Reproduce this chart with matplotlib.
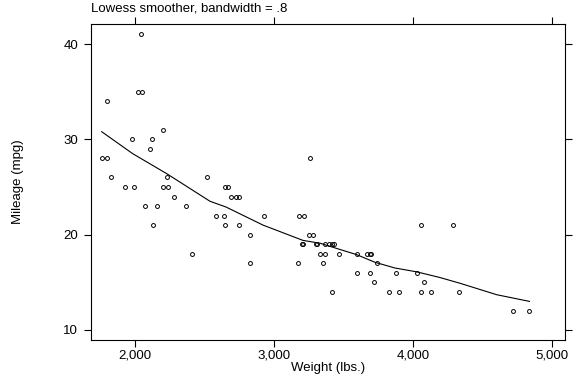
import matplotlib
matplotlib.use("Agg")
import matplotlib.pyplot as plt
from matplotlib.ticker import FuncFormatter

# auto data: weight (lbs.) and mileage (mpg)
weight = [2930, 3350, 2640, 3250, 4080, 3670, 2230, 3280, 3880, 3400,
          4330, 3900, 4290, 2110, 3690, 3180, 3220, 2750, 3430, 2120,
          3600, 3600, 3740, 1800, 2650, 4840, 4720, 3830, 2580, 4060,
          3720, 3370, 4130, 2830, 4060, 3310, 3300, 3690, 3370, 2730,
          4030, 3260, 1800, 2200, 2520, 3330, 3700, 3470, 3210, 3200,
          3420, 2690, 2830, 2070, 2650, 2370, 2020, 2280, 2750, 2130,
          2240, 1760, 1980, 3420, 1830, 2050, 2410, 2200, 2670, 2160,
          2040, 1930, 1990, 3170]
mpg = [22, 17, 22, 20, 15, 18, 26, 20, 16, 19,
       14, 14, 21, 29, 16, 22, 22, 24, 19, 30,
       18, 16, 17, 28, 21, 12, 12, 14, 22, 14,
       15, 18, 14, 20, 21, 19, 19, 18, 19, 24,
       16, 28, 34, 25, 26, 18, 18, 18, 19, 19,
       19, 24, 17, 23, 25, 23, 35, 24, 21, 21,
       25, 28, 30, 14, 26, 35, 18, 31, 25, 23,
       41, 25, 25, 17]

# lowess curve
smooth_w = [1760, 1983, 2228, 2540, 2655, 2922, 3209, 3332, 3596,
            3728, 3872, 4028, 4196, 4340, 4604, 4840]
smooth_mpg = [30.8, 28.5, 26.4, 23.5, 22.9, 21.0, 19.4, 19.1, 17.9,
              17.1, 16.5, 16.1, 15.5, 14.9, 13.7, 13.0]

xticks = [2000, 3000, 4000, 5000]
yticks = [10, 20, 30, 40]

plt.rcParams["font.family"] = ["Liberation Sans", "DejaVu Sans"]

fig = plt.figure(figsize=(5.76, 3.84), dpi=100)
ax = fig.add_axes([0.1575, 0.1146, 0.8235, 0.8229])

ax.plot(weight, mpg, "o", ms=2.8, mfc="none", mec="black", mew=0.7)
ax.plot(smooth_w, smooth_mpg, color="black", lw=0.8)

ax.set_xlim(1681, 5096)
ax.set_ylim(8.95, 42.1)
ax.set_xticks(xticks)
ax.set_yticks(yticks)
ax.xaxis.set_major_formatter(FuncFormatter(lambda v, p: f"{int(v):,}"))

ax.tick_params(direction="out", length=5, width=0.8, labelsize=9.5,
               top=True, right=True, pad=2)
ax.tick_params(axis="y", pad=4)
for s in ax.spines.values():
    s.set_linewidth(0.8)

ax.set_xlabel("Weight (lbs.)", fontsize=9.5, labelpad=0)
ax.set_ylabel("Mileage (mpg)", fontsize=9.5, labelpad=28)
ax.text(0.0, 1.03, "Lowess smoother, bandwidth = .8", transform=ax.transAxes,
        fontsize=9.5, ha="left", va="bottom")

fig.savefig("out.png", dpi=100)
